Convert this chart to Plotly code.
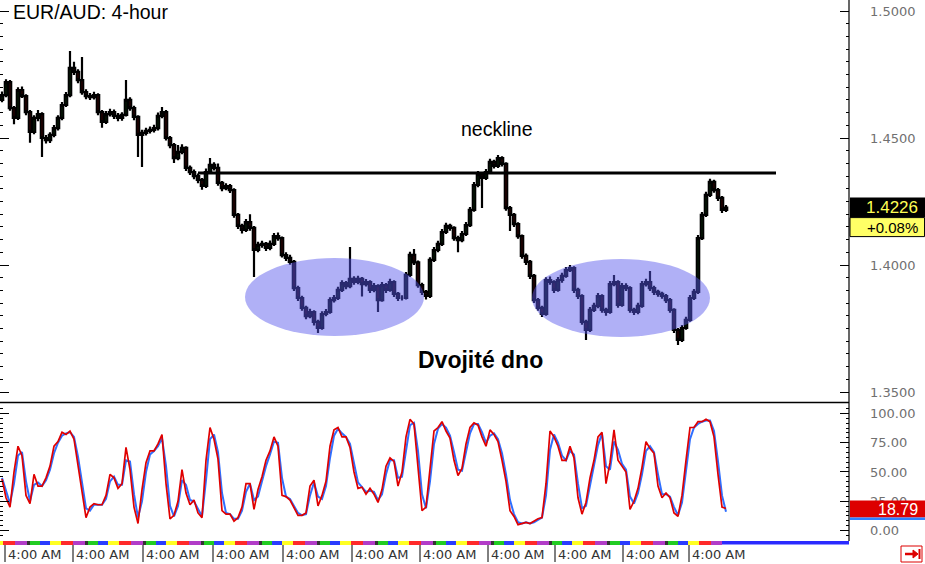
import plotly.graph_objects as go

# ---------------- data ----------------
candle_index = list(range(182))

open_ = [
1.4650,1.4669,1.4720,1.4618,1.4579,1.4689,1.4665,1.4602,1.4524,1.4579,
1.4594,1.4500,1.4492,1.4512,1.4539,1.4579,1.4630,1.4669,1.4776,1.4760,
1.4728,1.4681,1.4665,1.4661,1.4669,1.4602,1.4563,1.4594,1.4602,1.4587,
1.4579,1.4591,1.4650,1.4618,1.4583,1.4512,1.4520,1.4528,1.4532,1.4539,
1.4587,1.4602,1.4500,1.4472,1.4421,1.4445,1.4461,1.4382,1.4366,1.4350,
1.4335,1.4311,1.4366,1.4394,1.4382,1.4323,1.4303,1.4311,1.4295,1.4197,
1.4154,1.4138,1.4169,1.4146,1.4059,1.4079,1.4083,1.4067,1.4083,1.4114,
1.4106,1.4039,1.4028,1.4012,1.3909,1.3870,1.3831,1.3799,1.3815,1.3776,
1.3752,1.3807,1.3815,1.3862,1.3870,1.3902,1.3929,1.3917,1.3945,1.3933,
1.3945,1.3925,1.3933,1.3902,1.3917,1.3862,1.3921,1.3902,1.3933,1.3886,
1.3870,1.3870,1.3961,1.4040,1.4010,1.3921,1.3894,1.3878,1.4020,1.4059,
1.4083,1.4130,1.4154,1.4146,1.4106,1.4098,1.4122,1.4157,1.4217,1.4315,
1.4358,1.4343,1.4366,1.4406,1.4390,1.4421,1.4398,1.4224,1.4197,1.4161,
1.4114,1.4036,1.4012,1.3957,1.3862,1.3831,1.3807,1.3941,1.3933,1.3902,
1.3941,1.3957,1.3980,1.3988,1.3902,1.3878,1.3776,1.3744,1.3823,1.3839,
1.3878,1.3823,1.3815,1.3925,1.3933,1.3843,1.3917,1.3909,1.3823,1.3815,
1.3839,1.3925,1.3933,1.3909,1.3894,1.3886,1.3878,1.3862,1.3823,1.3744,
1.3705,1.3752,1.3784,1.3870,1.3894,1.4106,1.4197,1.4276,1.4327,1.4295,
1.4264,1.4217]

close = [
1.4669,1.4720,1.4618,1.4579,1.4689,1.4665,1.4602,1.4524,1.4579,1.4594,
1.4500,1.4492,1.4512,1.4539,1.4579,1.4630,1.4669,1.4776,1.4760,1.4728,
1.4681,1.4665,1.4661,1.4669,1.4602,1.4563,1.4594,1.4602,1.4587,1.4579,
1.4591,1.4650,1.4618,1.4583,1.4512,1.4520,1.4528,1.4532,1.4539,1.4587,
1.4602,1.4500,1.4472,1.4421,1.4445,1.4461,1.4382,1.4366,1.4350,1.4335,
1.4311,1.4366,1.4394,1.4382,1.4323,1.4303,1.4311,1.4295,1.4197,1.4154,
1.4138,1.4169,1.4146,1.4059,1.4079,1.4083,1.4067,1.4083,1.4114,1.4106,
1.4039,1.4028,1.4012,1.3909,1.3870,1.3831,1.3799,1.3815,1.3776,1.3752,
1.3807,1.3815,1.3862,1.3870,1.3902,1.3929,1.3917,1.3945,1.3933,1.3945,
1.3925,1.3933,1.3902,1.3917,1.3862,1.3921,1.3902,1.3933,1.3886,1.3870,
1.3870,1.3961,1.4040,1.4010,1.3921,1.3894,1.3878,1.4020,1.4059,1.4083,
1.4130,1.4154,1.4146,1.4106,1.4098,1.4122,1.4157,1.4217,1.4315,1.4358,
1.4343,1.4366,1.4406,1.4390,1.4421,1.4398,1.4224,1.4197,1.4161,1.4114,
1.4036,1.4012,1.3957,1.3862,1.3831,1.3807,1.3941,1.3933,1.3902,1.3941,
1.3957,1.3980,1.3988,1.3902,1.3878,1.3776,1.3744,1.3823,1.3839,1.3878,
1.3823,1.3815,1.3925,1.3933,1.3843,1.3917,1.3909,1.3823,1.3815,1.3839,
1.3925,1.3933,1.3909,1.3894,1.3886,1.3878,1.3862,1.3823,1.3744,1.3705,
1.3752,1.3784,1.3870,1.3894,1.4106,1.4197,1.4276,1.4327,1.4295,1.4264,
1.4217,1.4226]

high = [
1.4683,1.4731,1.4728,1.4626,1.4700,1.4703,1.4672,1.4610,1.4590,1.4610,
1.4601,1.4512,1.4523,1.4551,1.4590,1.4642,1.4681,1.4843,1.4800,1.4771,
1.4819,1.4692,1.4677,1.4682,1.4676,1.4610,1.4606,1.4615,1.4612,1.4598,
1.4601,1.4728,1.4660,1.4627,1.4590,1.4532,1.4540,1.4545,1.4552,1.4600,
1.4622,1.4610,1.4508,1.4480,1.4472,1.4475,1.4468,1.4392,1.4376,1.4360,
1.4343,1.4380,1.4421,1.4405,1.4400,1.4331,1.4322,1.4319,1.4302,1.4205,
1.4162,1.4181,1.4200,1.4154,1.4092,1.4095,1.4091,1.4096,1.4126,1.4128,
1.4112,1.4050,1.4040,1.4020,1.3918,1.3879,1.3840,1.3828,1.3822,1.3784,
1.3818,1.3827,1.3873,1.3882,1.3914,1.3940,1.3937,1.4071,1.3956,1.3958,
1.3953,1.3945,1.3940,1.3929,1.3924,1.3933,1.3929,1.3946,1.3940,1.3894,
1.3881,1.3972,1.4052,1.4063,1.4018,1.3930,1.3902,1.4031,1.4071,1.4095,
1.4142,1.4166,1.4162,1.4153,1.4115,1.4134,1.4169,1.4228,1.4327,1.4370,
1.4366,1.4378,1.4418,1.4414,1.4433,1.4428,1.4405,1.4232,1.4205,1.4168,
1.4120,1.4045,1.4020,1.3965,1.3870,1.3840,1.3952,1.3955,1.3940,1.3953,
1.3969,1.3992,1.4000,1.3995,1.3910,1.3885,1.3784,1.3835,1.3851,1.3890,
1.3885,1.3832,1.3937,1.3961,1.3940,1.3929,1.3928,1.3916,1.3832,1.3851,
1.3937,1.3946,1.3976,1.3918,1.3903,1.3895,1.3886,1.3870,1.3830,1.3752,
1.3764,1.3796,1.3882,1.3906,1.4118,1.4209,1.4288,1.4340,1.4336,1.4303,
1.4272,1.4236]

low = [
1.4641,1.4660,1.4607,1.4554,1.4571,1.4657,1.4590,1.4481,1.4515,1.4566,
1.4425,1.4478,1.4480,1.4503,1.4530,1.4570,1.4622,1.4660,1.4748,1.4716,
1.4670,1.4653,1.4650,1.4652,1.4590,1.4540,1.4555,1.4585,1.4575,1.4566,
1.4568,1.4585,1.4607,1.4570,1.4425,1.4386,1.4510,1.4518,1.4522,1.4530,
1.4578,1.4490,1.4460,1.4402,1.4412,1.4436,1.4370,1.4354,1.4338,1.4322,
1.4296,1.4303,1.4358,1.4372,1.4312,1.4290,1.4294,1.4283,1.4186,1.4142,
1.4124,1.4130,1.4135,1.3953,1.4050,1.4068,1.4055,1.4058,1.4075,1.4095,
1.4030,1.4016,1.4001,1.3898,1.3858,1.3820,1.3786,1.3790,1.3762,1.3732,
1.3745,1.3798,1.3808,1.3852,1.3862,1.3894,1.3905,1.3908,1.3922,1.3924,
1.3876,1.3915,1.3890,1.3893,1.3815,1.3855,1.3890,1.3895,1.3874,1.3858,
1.3860,1.3864,1.3953,1.4000,1.3910,1.3882,1.3864,1.3870,1.4012,1.4050,
1.4075,1.4122,1.4135,1.4095,1.4050,1.4090,1.4114,1.4150,1.4210,1.4306,
1.4224,1.4335,1.4358,1.4380,1.4382,1.4388,1.4214,1.4134,1.4150,1.4103,
1.4025,1.4000,1.3945,1.3850,1.3820,1.3795,1.3800,1.3922,1.3890,1.3895,
1.3930,1.3950,1.3972,1.3890,1.3866,1.3765,1.3705,1.3736,1.3815,1.3830,
1.3812,1.3800,1.3808,1.3916,1.3832,1.3836,1.3898,1.3812,1.3803,1.3806,
1.3832,1.3915,1.3898,1.3882,1.3875,1.3867,1.3850,1.3812,1.3732,1.3685,
1.3697,1.3745,1.3777,1.3862,1.3886,1.4098,1.4189,1.4268,1.4284,1.4252,
1.4205,1.4209]

stoch_k = [
44,28,20,50,72,64,30,23,48,38,
38,45,55,72,76,84,82,85,78,55,
33,11,20,23,22,22,30,48,45,36,
40,71,52,20,6,35,58,68,68,74,
82,40,10,13,25,52,32,22,26,15,
11,60,88,78,61,17,14,14,8,11,
20,40,40,18,35,46,60,68,80,72,
30,29,26,19,13,13,15,38,43,21,
30,42,72,86,88,80,80,71,50,36,
37,31,36,31,24,35,55,62,59,38,
50,80,95,91,56,17,20,54,85,88,
93,85,79,60,47,53,74,88,92,90,
80,72,86,82,76,60,42,17,12,5,
6,7,6,8,10,11,40,85,80,72,
60,60,72,62,28,14,24,45,60,80,
84,40,58,86,60,55,50,18,25,36,
54,76,70,66,38,28,32,28,15,12,
30,60,88,88,93,93,95,93,80,48,
20,18.79]

stoch_d = [
45,34,23,40,64,67,42,25,39,41,
38,43,52,66,75,81,83,84,80,63,
41,19,17,22,22,22,27,42,46,39,
39,60,59,31,11,25,50,65,68,72,
79,55,21,12,21,43,39,26,25,19,
12,43,78,82,67,32,15,14,10,10,
17,33,40,26,29,42,55,65,76,75,
45,29,27,21,15,13,14,30,41,29,
27,38,62,81,87,83,80,74,57,41,
37,33,34,33,26,31,48,60,60,45,
46,70,90,92,68,31,19,42,74,87,
91,88,81,67,52,51,67,83,91,91,
84,75,81,83,78,66,48,26,14,7,
6,7,6,7,9,11,30,69,82,75,
64,60,68,65,40,19,21,38,55,73,
83,55,52,76,69,57,52,29,23,32,
48,68,72,67,48,31,31,29,20,13,
24,50,78,88,91,93,94,94,85,59,
30,16]

price_change_text = "+0.08%"
neckline_price = 1.4362
neckline_span = [49, 193.5]
bottom_zones = [  # (start index, end index, low price, high price)
    (60.75, 105.5, 1.37205, 1.40276),
    (132.5, 177.0, 1.37165, 1.40236),
]
label_positions = [0.75, 17.75, 35.25, 52.75, 70.25, 87.5, 104.5, 121.5, 138.25, 155.25, 171.75]
tick_labels = ["4:00 AM"] * len(label_positions)
session_colors = ["#ff2a2a", "#b23cc8", "#333333", "#22cc22", "#2a3cff", "#ffff22"]
session_widths = [3.0, 3.0, 0.75, 2.5, 2.5, 2.75]
price_ticks = [1.35, 1.40, 1.45, 1.50]
stoch_ticks = [0, 25, 50, 75, 100]

# ---------------- geometry ----------------
W, H = 925, 564
plot_right_px = 849
xdom = [0, plot_right_px / W]
def py(px):
    return 1 - px / H
def pxp(px):
    return px / W

FONT = "Arial, 'Liberation Sans', sans-serif"
AXFONT = "'DejaVu Sans', Verdana, sans-serif"

fig = go.Figure()

fig.add_trace(go.Candlestick(
    x=candle_index, open=open_, high=high, low=low, close=close,
    xaxis="x", yaxis="y",
    increasing=dict(line=dict(color="black", width=2.2), fillcolor="#1f9a1f"),
    decreasing=dict(line=dict(color="black", width=2.2), fillcolor="#ff1010"),
    whiskerwidth=0, showlegend=False, hoverinfo="skip",
))

fig.add_trace(go.Scatter(x=candle_index, y=stoch_d, xaxis="x2", yaxis="y2",
                         mode="lines", line=dict(color="#2f6fff", width=2),
                         showlegend=False, hoverinfo="skip"))
fig.add_trace(go.Scatter(x=candle_index, y=stoch_k, xaxis="x2", yaxis="y2",
                         mode="lines", line=dict(color="#e00000", width=1.7),
                         showlegend=False, hoverinfo="skip"))

xr = [-0.5, 211.75]
p_range = [1.346063, 1.504331]
s_range = [-8.97, 108.1]

axis_font = dict(family=AXFONT, size=13, color="#707070")

fig.update_layout(
    width=W, height=H, margin=dict(l=0, r=0, t=0, b=0),
    paper_bgcolor="white", plot_bgcolor="white",
    font=dict(family=FONT),
    boxgap=0.2, boxgroupgap=0.25,
    xaxis=dict(domain=xdom, range=xr, anchor="y", visible=False,
               rangeslider=dict(visible=False), fixedrange=True),
    xaxis2=dict(domain=xdom, range=xr, anchor="y2", visible=False, matches="x"),
    yaxis=dict(domain=[py(402), 1], range=p_range, side="right", anchor="x",
               tickvals=price_ticks, tickformat=".4f", ticks="inside", ticklen=9,
               tickcolor="black", tickwidth=1, showline=False, mirror="ticks",
               showgrid=False, zeroline=False, tickfont=axis_font,
               ticklabelstandoff=20,
               minor=dict(dtick=0.005, tick0=1.35, ticklen=3, tickcolor="black",
                          ticks="inside", showgrid=False)),
    yaxis2=dict(domain=[py(541), py(404)], range=s_range, side="right", anchor="x2",
                tickvals=stoch_ticks, tickformat=".2f", ticks="inside", ticklen=9,
                tickcolor="black", tickwidth=1, showline=False, mirror="ticks",
                showgrid=False, zeroline=False, tickfont=axis_font,
                ticklabelstandoff=20,
                minor=dict(dtick=25 / 6, tick0=0, ticklen=3, tickcolor="black",
                           ticks="inside", showgrid=False)),
)

shapes = []
# right axis line
shapes.append(dict(type="line", xref="paper", yref="paper", x0=xdom[1], x1=xdom[1],
                   y0=py(541), y1=1, line=dict(color="black", width=1.2)))
# separator between panels
shapes.append(dict(type="line", xref="paper", yref="paper", x0=0, x1=xdom[1],
                   y0=py(402.5), y1=py(402.5), line=dict(color="black", width=1.6)))
# neckline
shapes.append(dict(type="line", xref="x", yref="y", x0=neckline_span[0], x1=neckline_span[1],
                   y0=neckline_price, y1=neckline_price, line=dict(color="black", width=3),
                   layer="above"))
# ellipses
for x0, x1, y0, y1 in bottom_zones:
    shapes.append(dict(type="circle", xref="x", yref="y", x0=x0, x1=x1, y0=y0, y1=y1,
                       fillcolor="rgba(88,88,236,0.47)", line=dict(width=0), layer="above"))
# session colour strip
pos = -0.5
first = True
k = 0
while pos < 180:
    wdt = session_widths[k % 6]
    if first:
        c = session_colors[5]; wdt = 0.75; first = False
    else:
        c = session_colors[k % 6]; k += 1
    end = min(pos + wdt, 180)
    shapes.append(dict(type="rect", xref="x", yref="paper", x0=pos, x1=end,
                       y0=py(545), y1=py(541), fillcolor=c, line=dict(width=0)))
    pos = end
shapes.append(dict(type="rect", xref="x", yref="paper", x0=180, x1=xr[1],
                   y0=py(544.5), y1=py(541), fillcolor="#2a2aff", line=dict(width=0)))
# time separators
for p in label_positions:
    shapes.append(dict(type="line", xref="x", yref="paper", x0=p, x1=p,
                       y0=py(562), y1=py(545), line=dict(color="black", width=1)))
# last price boxes
lp = close[-1]
px_unit = (p_range[1] - p_range[0]) / 402.0
shapes.append(dict(type="rect", xref="paper", yref="y", x0=850 / W, x1=1,
                   y0=lp - 10 * px_unit, y1=lp + 10 * px_unit,
                   fillcolor="black", line=dict(width=0), layer="above"))
shapes.append(dict(type="rect", xref="paper", yref="y", x0=850 / W, x1=0.9995,
                   y0=lp - 29 * px_unit, y1=lp - 10 * px_unit,
                   fillcolor="#ffff66", line=dict(color="black", width=1), layer="above"))
# stochastic value box
s_unit = (s_range[1] - s_range[0]) / 137.0
lk = stoch_k[-1]
shapes.append(dict(type="rect", xref="paper", yref="y2", x0=850 / W, x1=1,
                   y0=lk - 9 * s_unit, y1=lk + 8 * s_unit,
                   fillcolor="#dd0000", line=dict(width=0), layer="above"))
shapes.append(dict(type="rect", xref="paper", yref="y2", x0=850 / W, x1=1,
                   y0=lk - 11.5 * s_unit, y1=lk - 9 * s_unit,
                   fillcolor="#2f80ff", line=dict(width=0), layer="above"))
# scroll-to-end icon (box, arrow, bar)
shapes.append(dict(type="rect", xref="paper", yref="paper", x0=pxp(901), x1=pxp(922),
                   y0=py(562), y1=py(546), fillcolor="white",
                   line=dict(color="#dd0000", width=1)))
shapes.append(dict(type="line", xref="paper", yref="paper", x0=pxp(905), x1=pxp(914),
                   y0=py(554), y1=py(554), line=dict(color="#dd0000", width=2.5)))
shapes.append(dict(type="path", xref="paper", yref="paper",
                   path=f"M {pxp(913)} {py(550)} L {pxp(918)} {py(554)} L {pxp(913)} {py(558)} Z",
                   fillcolor="#dd0000", line=dict(color="#dd0000", width=1)))
shapes.append(dict(type="line", xref="paper", yref="paper", x0=pxp(919.5), x1=pxp(919.5),
                   y0=py(549), y1=py(559), line=dict(color="#dd0000", width=2)))
fig.update_layout(shapes=shapes)

ann = []
ann.append(dict(text="EUR/AUD: 4-hour", xref="paper", yref="paper", x=11 / W, y=py(12),
                xanchor="left", yanchor="middle", showarrow=False,
                font=dict(family=FONT, size=19.5, color="black")))
ann.append(dict(text="neckline", xref="x", yref="y", x=123.75, y=1.4535,
                showarrow=False, font=dict(family=FONT, size=19.5, color="black")))
ann.append(dict(text="<b>Dvojité dno</b>", xref="x", yref="y", x=119.5, y=1.3626,
                showarrow=False, font=dict(family=FONT, size=23, color="black")))
ann.append(dict(text=f"{lp:.4f}", xref="paper", yref="y", x=920 / W, y=lp,
                xanchor="right", yanchor="middle", showarrow=False,
                font=dict(family=FONT, size=17, color="#ffff55")))
ann.append(dict(text=price_change_text, xref="paper", yref="y", x=920 / W, y=lp - 19.5 * px_unit,
                xanchor="right", yanchor="middle", showarrow=False,
                font=dict(family=FONT, size=15, color="black")))
ann.append(dict(text=f"{lk:.2f}", xref="paper", yref="y2", x=920 / W, y=lk - 0.5 * s_unit,
                xanchor="right", yanchor="middle", showarrow=False,
                font=dict(family=FONT, size=16, color="white")))
for p, t in zip(label_positions, tick_labels):
    ann.append(dict(text=t, xref="x", yref="paper", x=p, xshift=1, y=py(554),
                    xanchor="left", yanchor="middle", showarrow=False,
                    font=dict(family=AXFONT, size=13, color="#333333")))
fig.update_layout(annotations=ann)

fig.write_html("out.html", config={"displayModeBar": False},
               post_script="document.body.style.margin='0px';")
